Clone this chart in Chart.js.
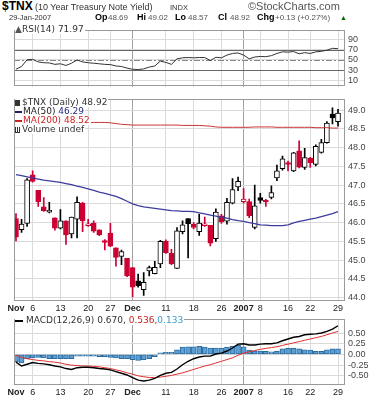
<!DOCTYPE html>
<html><head><meta charset="utf-8">
<script src="https://cdn.jsdelivr.net/npm/chart.js@4.4.1/dist/chart.umd.min.js"></script>
<style>
html,body{margin:0;padding:0;background:#fff}
#wrap{position:relative;width:382px;height:400px;overflow:hidden;font-family:"Liberation Sans",Arial,sans-serif}
#wrap canvas{position:absolute;left:0}
.t{position:absolute;white-space:nowrap;line-height:10px}
.lg{position:absolute;left:15px;font:9px "DejaVu Sans";color:#333;line-height:9px;white-space:nowrap}
.lg div{background:#fff;display:table;padding-right:1px}
.ln{display:inline-block;width:7px;height:0;border-top:2px solid;vertical-align:middle;margin-right:1px}
.ic{display:inline-block;width:5px;height:6px;margin-right:2px;vertical-align:-1px}
</style></head><body>
<div id="wrap">
<canvas id="rsi" width="382" height="73" style="top:22px"></canvas>
<canvas id="main" width="382" height="221" style="top:91px"></canvas>
<canvas id="macd" width="382" height="89" style="top:311px"></canvas>

<div class="t" style="left:2px;top:0px;font-size:12px;font-weight:bold;line-height:12px">$TNX</div>
<div class="t" style="left:35px;top:2px;font-size:9px;color:#333">(10 Year Treasury Note Yield)</div>
<div class="t" style="left:170px;top:3px;font-size:7.5px;color:#333">INDX</div>
<div class="t" style="left:248px;top:1px;font-size:11px;color:#555">©StockCharts.com</div>

<div class="t" style="left:9px;top:13px;font-size:7.5px;color:#333">29-Jan-2007</div>
<div class="t" style="left:95px;top:12px;font-size:9px;font-weight:bold">Op</div>
<div class="t" style="left:108px;top:13px;font-size:8px;color:#555">48.69</div>
<div class="t" style="left:137px;top:12px;font-size:9px;font-weight:bold">Hi</div>
<div class="t" style="left:148px;top:13px;font-size:8px;color:#555">49.02</div>
<div class="t" style="left:175px;top:12px;font-size:9px;font-weight:bold">Lo</div>
<div class="t" style="left:188px;top:13px;font-size:8px;color:#555">48.57</div>
<div class="t" style="left:218px;top:12px;font-size:9px;font-weight:bold">Cl</div>
<div class="t" style="left:230px;top:13px;font-size:8px;color:#555">48.92</div>
<div class="t" style="left:257px;top:12px;font-size:9px;font-weight:bold">Chg</div>
<div class="t" style="left:275px;top:13px;font-size:8px;color:#555">+0.13 (+0.27%)</div>
<div class="t" style="left:340px;top:13px;font-size:7px;color:#060">▲</div>

<div class="lg" style="top:25px"><div><span style="color:#555">▲</span>RSI(14) 71.97</div></div>
<div class="lg" style="top:98px">
 <div><span class="ic" style="background:#333"></span>$TNX (Daily) 48.92</div>
 <div><span class="ln" style="border-color:#202060"></span><span style="color:#222">MA(50)</span>&nbsp;<span style="color:#2a2a80">46.29</span></div>
 <div style="color:#cc2222"><span class="ln" style="border-color:#cc2222"></span>MA(200)&nbsp;48.52</div>
 <div><span class="ic" style="border-bottom:1px solid #333;height:5px;background:linear-gradient(90deg,#333 1px,#fff 1px,#fff 2px,#333 2px,#333 3px,#fff 3px,#fff 4px,#333 4px)"></span>Volume undef</div>
</div>
<div class="lg" style="top:316px"><div><span class="ln" style="border-color:#000;width:8px;margin-right:3px"></span>MACD(12,26,9) 0.670, <span style="color:#cc2222">0.536,</span> <span style="color:#3a9ad0">0.133</span></div></div>
</div>

<script>
// trading days Nov 1 2006 .. Jan 29 2007, index positions for the date labels
var tickIdx = [0, 3, 8, 13, 17, 21, 27, 32, 37, 41, 44, 49, 53, 58];
var tickLabels = ['Nov', '6', '13', '20', '27', 'Dec', '11', '18', '26', '2007', '8', '16', '22', '29'];
var boldIdx = [0, 21, 41];

var openP = [46.11,45.81,45.98,47.27,46.86,46.42,46.28,46.13,45.85,46.05,45.70,46.09,46.52,45.92,45.98,45.81,45.52,45.72,45.33,45.10,
  45.05,44.80,44.45,44.21,44.71,44.64,44.90,45.50,45.18,44.78,45.76,46.11,45.96,45.76,45.92,45.93,45.57,46.18,46.04,46.52,
  46.95,46.56,46.56,45.87,46.67,46.60,46.67,47.19,47.44,47.60,47.38,47.91,47.47,47.72,47.55,47.87,48.13,48.89,48.69];
var highP = [46.24,46.09,47.17,47.38,46.86,46.67,46.54,46.13,46.35,46.05,46.15,46.69,46.54,46.09,46.05,45.81,45.55,45.98,45.33,45.27,
  45.05,44.80,44.63,44.67,44.84,44.97,45.53,45.54,45.29,45.87,46.05,46.11,46.00,46.22,46.15,45.93,46.37,46.22,46.65,47.17,
  47.21,46.91,46.63,47.00,46.78,46.62,46.98,47.53,47.77,47.64,47.87,48.18,47.98,47.74,48.07,48.22,48.69,49.06,49.02];
var lowP = [45.51,45.74,45.90,47.08,46.43,46.30,46.26,45.80,45.83,45.42,45.59,45.59,45.76,45.90,45.74,45.65,45.27,45.36,44.84,44.88,
  44.56,44.02,44.28,44.06,44.58,44.63,44.80,45.18,44.88,44.78,45.70,45.06,45.83,45.66,45.90,45.38,45.50,45.98,45.96,46.50,
  46.85,46.52,46.13,45.83,46.52,46.43,46.63,47.12,47.40,47.38,47.36,47.46,47.42,47.47,47.51,47.85,48.12,48.63,48.57];
var closeP = [45.61,45.96,47.14,47.10,46.56,46.32,46.33,45.85,46.05,45.67,46.15,46.54,46.05,45.97,45.77,45.67,45.47,45.37,45.07,45.23,
  44.58,44.28,44.32,44.41,44.80,44.81,45.50,45.20,44.90,45.78,45.94,45.97,45.87,45.99,45.97,45.45,46.28,46.02,46.54,46.88,
  47.10,46.63,46.18,46.45,46.59,46.55,46.80,47.38,47.70,47.55,47.86,47.48,47.73,47.60,48.03,48.13,48.65,48.79,48.92];
var ma50 = [47.28,47.25,47.22,47.19,47.16,47.13,47.11,47.09,47.07,47.04,47.01,46.97,46.94,46.90,46.86,46.81,46.78,46.74,46.70,46.64,
  46.57,46.50,46.45,46.42,46.40,46.38,46.36,46.34,46.32,46.31,46.30,46.30,46.29,46.26,46.23,46.20,46.17,46.14,46.12,46.08,
  46.05,46.03,46.00,45.97,45.94,45.93,45.92,45.92,45.92,45.94,45.99,46.03,46.06,46.09,46.12,46.16,46.20,46.24,46.29];
var ma200 = [48.60,48.60,48.60,48.60,48.60,48.60,48.60,48.60,48.60,48.60,48.60,48.60,48.63,48.66,48.67,48.67,48.67,48.66,48.64,48.62,
  48.61,48.60,48.60,48.60,48.60,48.60,48.60,48.60,48.60,48.60,48.59,48.59,48.59,48.59,48.58,48.57,48.55,48.54,48.54,48.54,
  48.54,48.54,48.54,48.55,48.55,48.55,48.55,48.54,48.54,48.54,48.54,48.54,48.54,48.54,48.53,48.53,48.53,48.52,48.52];
var rsi = [31.6,37,50.3,51,46,44.4,44,41.2,42.3,39.1,43.4,49.8,46,44.4,43.4,42.3,41.2,40.7,38,37,
  33.8,31.6,31,32.2,35.9,38,47.6,45,41.2,52,54,54.6,54,54.6,54.6,48.7,55.1,54,59.4,62.6,
  63.6,59.4,52,55.6,56.7,56.2,58.3,62.6,65.8,65.2,66.3,62,64.2,62.6,65.8,66.8,69,72.7,71.97];
var macd = [-0.18,-0.27,-0.23,-0.19,-0.21,-0.22,-0.24,-0.27,-0.29,-0.33,-0.35,-0.31,-0.30,-0.30,-0.31,-0.33,-0.34,-0.36,-0.40,-0.44,
  -0.48,-0.54,-0.60,-0.62,-0.60,-0.56,-0.49,-0.44,-0.42,-0.34,-0.24,-0.16,-0.10,-0.06,-0.04,-0.04,0.01,0.03,0.08,0.15,
  0.24,0.25,0.22,0.22,0.24,0.25,0.25,0.27,0.32,0.36,0.40,0.42,0.46,0.47,0.48,0.50,0.54,0.59,0.67];
var signal = [-0.02,-0.07,-0.10,-0.12,-0.14,-0.15,-0.17,-0.18,-0.20,-0.23,-0.25,-0.26,-0.27,-0.27,-0.28,-0.29,-0.31,-0.33,-0.36,-0.39,
  -0.43,-0.46,-0.50,-0.52,-0.54,-0.54,-0.53,-0.51,-0.49,-0.46,-0.43,-0.39,-0.35,-0.31,-0.27,-0.24,-0.20,-0.16,-0.12,-0.08,
  -0.02,0.03,0.06,0.09,0.12,0.14,0.16,0.18,0.21,0.24,0.27,0.30,0.33,0.36,0.39,0.42,0.46,0.50,0.536];
var hist = [-0.17,-0.20,-0.10,-0.08,-0.07,-0.08,-0.10,-0.10,-0.10,-0.10,-0.10,-0.04,-0.04,-0.04,-0.04,-0.05,-0.05,-0.07,-0.08,-0.10,
  -0.10,-0.12,-0.14,-0.12,-0.10,-0.05,0.04,0.05,0.05,0.11,0.17,0.18,0.18,0.19,0.17,0.15,0.15,0.15,0.17,0.19,
  0.21,0.18,0.10,0.08,0.08,0.07,0.06,0.07,0.13,0.14,0.15,0.13,0.11,0.10,0.07,0.07,0.11,0.13,0.133];
var rsiTicks = [10, 30, 50, 70, 90];
var priceTicks = [44, 44.5, 45, 45.5, 46, 46.5, 47, 47.5, 48, 48.5, 49];
var macdTicks = [-0.5, -0.25, 0, 0.25, 0.5];

Chart.defaults.animation = false;
Chart.defaults.plugins.legend.display = false;
Chart.defaults.plugins.tooltip.enabled = false;

var red = '#cc0033';

function pts(arr) {
  return arr.map(function (v, i) { return { x: i, y: v }; });
}

function xScale(showLabels, h) {
  return {
    type: 'linear', min: -0.36, max: 59.26, offset: false,
    afterBuildTicks: function (s) { s.ticks = tickIdx.map(function (v) { return { value: v }; }); },
    afterFit: function (s) { s.height = h; },
    grid: {
      offset: false, drawTicks: false,
      color: function (c) {
        if (!c.tick || c.tick.value === 0) return 'rgba(0,0,0,0)';
        return (c.tick.value === 21 || c.tick.value === 41) ? '#a0a0a0' : '#dadada';
      }
    },
    border: { display: false },
    ticks: {
      display: showLabels, autoSkip: false, maxRotation: 0, padding: 2, color: '#222',
      font: function (c) {
        var b = c.tick && boldIdx.indexOf(c.tick.value) >= 0;
        return { family: 'Liberation Sans', size: 9, weight: b ? 'bold' : 'normal' };
      },
      callback: function (v) { return tickLabels[tickIdx.indexOf(v)]; }
    }
  };
}

function yScale(min, max, tks, fmt) {
  return {
    position: 'right', min: min, max: max,
    afterBuildTicks: function (s) { s.ticks = tks.map(function (v) { return { value: v }; }); },
    afterFit: function (s) { s.width = 37; },
    grid: { color: '#dadada', drawTicks: false },
    border: { display: false },
    ticks: { padding: 3, color: '#444', font: { family: 'Liberation Sans', size: 9 }, callback: fmt }
  };
}

var frame = {
  id: 'frame',
  afterDraw: function (ch) {
    var a = ch.chartArea, c = ch.ctx;
    c.save();
    c.strokeStyle = '#9a9a9a';
    c.lineWidth = 1;
    c.strokeRect(Math.round(a.left) + 0.5, Math.round(a.top) + 0.5, Math.round(a.right - a.left) - 1, Math.round(a.bottom - a.top) - 1);
    c.restore();
  }
};

var rsiLines = {
  id: 'rsiLines',
  beforeDatasetsDraw: function (ch) {
    var a = ch.chartArea, c = ch.ctx, y = ch.scales.y;
    c.save();
    c.lineWidth = 1;
    [70, 30].forEach(function (v) {
      var p = Math.round(y.getPixelForValue(v)) + 0.5;
      c.strokeStyle = '#666';
      c.beginPath(); c.moveTo(a.left, p); c.lineTo(a.right, p); c.stroke();
    });
    var p5 = Math.round(y.getPixelForValue(50)) + 0.5;
    c.strokeStyle = '#888';
    c.setLineDash([6, 2, 2, 2]);
    c.beginPath(); c.moveTo(a.left, p5); c.lineTo(a.right, p5); c.stroke();
    c.restore();
  }
};

var layout = { autoPadding: false, padding: { left: 14, right: 0, top: 2, bottom: 0 } };

new Chart(document.getElementById('rsi'), {
  type: 'line',
  data: { datasets: [{ data: pts(rsi), borderColor: '#333', borderWidth: 1, pointRadius: 0, tension: 0 }] },
  options: {
    responsive: false, layout: { autoPadding: false, padding: { left: 14, right: 0, top: 2, bottom: 2 } },
    scales: { x: xScale(false, 0), y: yScale(-2.5, 107.9, rsiTicks, function (v) { return v; }) }
  },
  plugins: [rsiLines, frame]
});

var up = closeP.map(function (c, i) { return c >= (i ? closeP[i - 1] : openP[i]); });
var lineCol = up.map(function (u) { return u ? '#000' : red; });
var fillCol = closeP.map(function (c, i) { return c > openP[i] ? '#fff' : lineCol[i]; });

new Chart(document.getElementById('main'), {
  type: 'bar',
  data: {
    datasets: [
      { type: 'line', data: pts(ma50), borderColor: '#3d3d9e', borderWidth: 1.3, pointRadius: 0, order: 1 },
      { type: 'line', data: pts(ma200), borderColor: '#cc3333', borderWidth: 1, pointRadius: 0, order: 1 },
      { data: openP.map(function (o, i) { return { x: i, y: [o, closeP[i]] }; }),
        backgroundColor: fillCol, borderColor: lineCol, borderWidth: 1, borderSkipped: false,
        barThickness: 5, grouped: false, order: 2 },
      { data: lowP.map(function (l, i) { return { x: i, y: [l, highP[i]] }; }),
        backgroundColor: lineCol, borderWidth: 0, barThickness: 1, grouped: false, order: 3 }
    ]
  },
  options: {
    responsive: false, layout: layout,
    scales: { x: xScale(true, 11), y: yScale(43.91, 49.284, priceTicks, function (v) { return v.toFixed(1); }) }
  },
  plugins: [frame]
});

new Chart(document.getElementById('macd'), {
  type: 'bar',
  data: {
    datasets: [
      { type: 'line', data: pts(macd), borderColor: '#000', borderWidth: 1.4, pointRadius: 0, order: 1 },
      { type: 'line', data: pts(signal), borderColor: '#e03030', borderWidth: 1, pointRadius: 0, order: 1 },
      { data: pts(hist), backgroundColor: '#5b9fd6', borderColor: '#2c6b9e', borderWidth: 1, borderSkipped: false,
        barThickness: 5, grouped: false, order: 2 }
    ]
  },
  options: {
    responsive: false, layout: layout,
    scales: { x: xScale(true, 15), y: yScale(-0.714, 0.818, macdTicks, function (v) { return v.toFixed(2); }) }
  },
  plugins: [frame]
});
</script>
</body></html>
